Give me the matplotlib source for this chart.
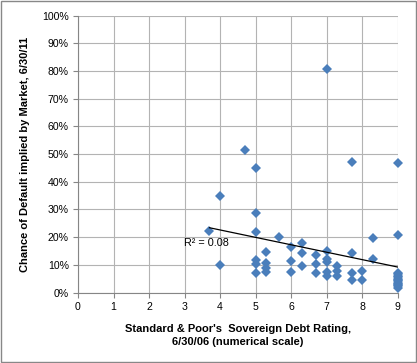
import numpy as np
import matplotlib
matplotlib.use("Agg")
import matplotlib.pyplot as plt
from matplotlib.patches import Rectangle

# S&P rating (numerical scale) and implied default chance (%)
rating = [3.7,
          4.0, 4.0,
          4.7,
          5.0, 5.0, 5.0, 5.0, 5.0, 5.0,
          5.3, 5.3, 5.3, 5.3,
          5.67,
          6.0, 6.0, 6.0,
          6.3, 6.3, 6.3,
          6.7, 6.7, 6.7,
          7.0, 7.0, 7.0, 7.0, 7.0, 7.0,
          7.3, 7.3, 7.3,
          7.7, 7.7, 7.7, 7.7,
          8.0, 8.0,
          8.3, 8.3,
          9.0, 9.0, 9.0, 9.0, 9.0, 9.0, 9.0, 9.0, 9.0, 9.0, 9.0, 9.0, 9.0, 9.0]
default_pct = [22.3,
               35.0, 9.8,
               51.3,
               45.0, 28.6, 21.9, 11.8, 10.4, 7.0,
               14.6, 10.6, 9.0, 7.3,
               20.2,
               16.5, 11.5, 7.3,
               17.8, 14.2, 9.6,
               13.6, 10.3, 6.9,
               80.6, 15.1, 12.0, 11.2, 7.4, 6.0,
               9.6, 7.8, 6.0,
               47.3, 14.3, 7.2, 4.5,
               7.7, 4.7,
               19.6, 12.2,
               46.9, 20.7, 7.2, 6.6, 6.0, 5.5, 5.0, 4.5, 4.0, 3.5, 3.0, 2.6, 2.2, 1.7]

x_ticks = list(range(0, 10))
y_ticks = list(range(0, 101, 10))
r2_label = "R² = 0.08"
xlabel = "Standard & Poor's  Sovereign Debt Rating,\n6/30/06 (numerical scale)"
ylabel = "Chance of Default implied by Market, 6/30/11"

fig = plt.figure(figsize=(4.17, 3.63), dpi=100)
fig.patch.set_facecolor("white")
fig.patches.append(Rectangle((0.002, 0.003), 0.995, 0.994, transform=fig.transFigure,
                             fill=False, edgecolor="#888888", linewidth=1.0))

ax = fig.add_axes([0.187, 0.194, 0.767, 0.763])
x = np.array(rating)
y = np.array(default_pct)

grid_c = "#B3B3B3"
ax.set_xlim(0, 9)
ax.set_ylim(0, 100)
ax.set_xticks(x_ticks)
ax.set_yticks(y_ticks)
ax.set_yticklabels([f"{v}%" for v in y_ticks])
ax.grid(True, color=grid_c, linewidth=0.8)
ax.set_axisbelow(True)
for s in ["top", "right"]:
    ax.spines[s].set_visible(False)
for s in ["left", "bottom"]:
    ax.spines[s].set_color("#868686")
    ax.spines[s].set_linewidth(0.8)
ax.tick_params(axis="both", colors="#868686", length=3.5, width=0.8,
               labelsize=7.6, labelcolor="black", pad=3)
for lab in ax.get_xticklabels() + ax.get_yticklabels():
    lab.set_family("Liberation Sans")

ax.plot(x, y, linestyle="none", marker="D", markersize=5.3, color="#4A7EBB",
        markeredgewidth=0, clip_on=False, zorder=3)

# linear trendline
m, b = np.polyfit(x, y, 1)
xs = np.array([x.min(), x.max()])
ax.plot(xs, m * xs + b, color="black", linewidth=0.9, zorder=4)
ax.text(2.97, 17.9, r2_label, fontsize=7.8, family="Liberation Sans",
        va="center", ha="left", zorder=5)

ax.set_xlabel(xlabel, fontsize=8, fontweight="bold", family="Liberation Sans",
              labelpad=9, linespacing=1.35)
ax.set_ylabel(ylabel, fontsize=8, fontweight="bold", family="Liberation Sans",
              labelpad=9)

fig.savefig("out.png", dpi=100, facecolor="white")
